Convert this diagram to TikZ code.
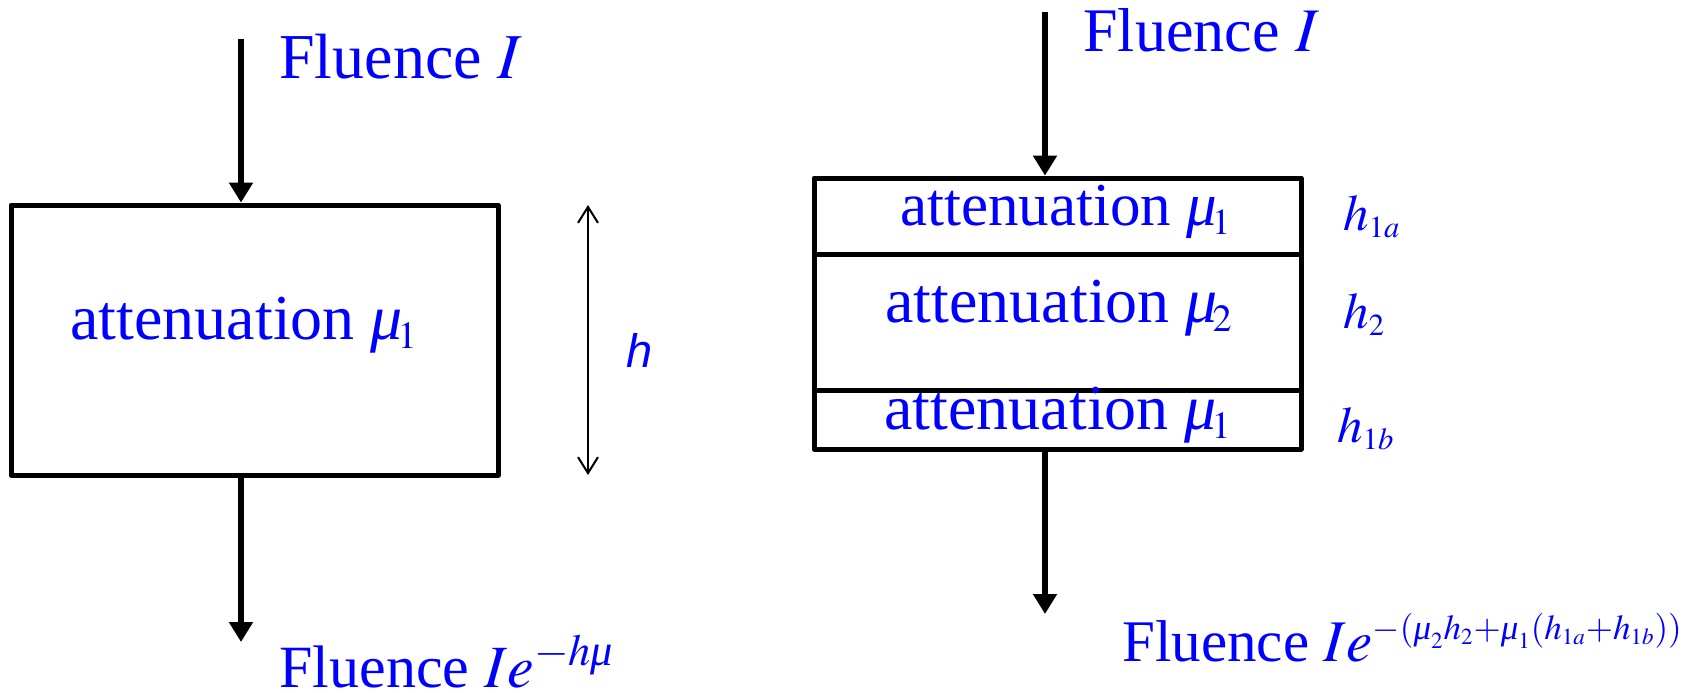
\documentclass[tikz,border=0pt]{standalone}
\usepackage{amsmath}
\usepackage{mathptmx}
\usepackage{fontspec}
\setmainfont{Liberation Serif}
\newfontfamily\arialfont{Liberation Sans}
\usetikzlibrary{arrows.meta,positioning}
\DeclareMathSizes{29.5}{29.5}{17.5}{11.5}
\newcommand{\mui}{\text{\itshape μ}}
\newcommand{\musub}[1]{\mui\mkern-1.5mu_{\scriptscriptstyle #1}}

\begin{document}
\begin{tikzpicture}[
  x=0.5pt, y=-0.5pt,
  line join=round,
  flow/.style={line width=3pt, -{Triangle[length=10pt,width=11.5pt]}},
  dim/.style={line width=1pt, {Straight Barb[length=8pt,width=10pt]}-{Straight Barb[length=8pt,width=10pt]}},
  slab/.style={draw, line width=2.5pt, minimum width=243.5pt, inner sep=0pt, outer sep=0pt},
  lbl/.style={text=blue, anchor=base west, inner sep=0pt}
]
\useasboundingbox (0,0) rectangle (1694,692);

% 单层
\node[slab, minimum height=135pt] (boxL) at (254.5,340) {};
\coordinate (inL) at (241,39);
\coordinate (outL) at (241,642);
\draw[flow, shorten >=1.2pt] (inL) -- (inL |- boxL.north);
\draw[flow, shorten <=1.2pt] (outL |- boxL.south) -- (outL);

\node[lbl, font=\fontsize{32}{38}\selectfont] (finL) at (279,78) {Fluence $I$};
\node[lbl, font=\fontsize{32}{38}\selectfont] (attL) at (70,339) {attenuation $\musub{1}$};
\node[lbl, font=\fontsize{30}{36}\selectfont] (foutL) at (279,687) {Fluence $Ie^{-h\mui}$};

% 厚度 h
\coordinate (hx) at (588,0);
\draw[dim] (boxL.north -| hx) -- (boxL.south -| hx);
\node[lbl, font=\arialfont\itshape\fontsize{23.5}{28}\selectfont] (hL) at (626,367) {h};

% 三层
\node[slab, minimum height=38pt] (s1a) at (1057.5,216) {};
\node[slab, minimum height=68pt, below=0pt of s1a] (s2) {};
\node[slab, minimum height=29.5pt, below=0pt of s2] (s1b) {};
\coordinate (inR) at (1045,12);
\coordinate (outR) at (1045,614);
\draw[flow, shorten >=1.2pt] (inR) -- (inR |- s1a.north);
\draw[flow, shorten <=1.2pt] (outR |- s1b.south) -- (outR);

\node[lbl, font=\fontsize{31}{37}\selectfont] (finR) at (1083,51) {Fluence $I$};
\node[lbl, font=\fontsize{30.5}{36}\selectfont] (att1a) at (900,225) {attenuation $\musub{1}$};
\node[lbl, font=\fontsize{32}{38}\selectfont] (att2) at (885,322) {attenuation $\musub{2}$};
\node[lbl, font=\fontsize{32}{38}\selectfont] (att1b) at (884,429) {attenuation $\musub{1}$};

\node[lbl, font=\fontsize{25.5}{30}\selectfont] (h1a) at (1343,230) {$h_{\scriptscriptstyle 1a}$};
\node[lbl, font=\fontsize{25.5}{30}\selectfont] (h2) at (1343,328) {$h_{\scriptscriptstyle 2}$};
\node[lbl, font=\fontsize{25.5}{30}\selectfont] (h1b) at (1337,442) {$h_{\scriptscriptstyle 1b}$};

\node[lbl, font=\fontsize{29.5}{35}\selectfont] (foutR) at (1122,661)
  {Fluence $Ie^{-(\mui_2h_2+\mui_1(h_{1a}+h_{1b}))}$};
\end{tikzpicture}
\end{document}
